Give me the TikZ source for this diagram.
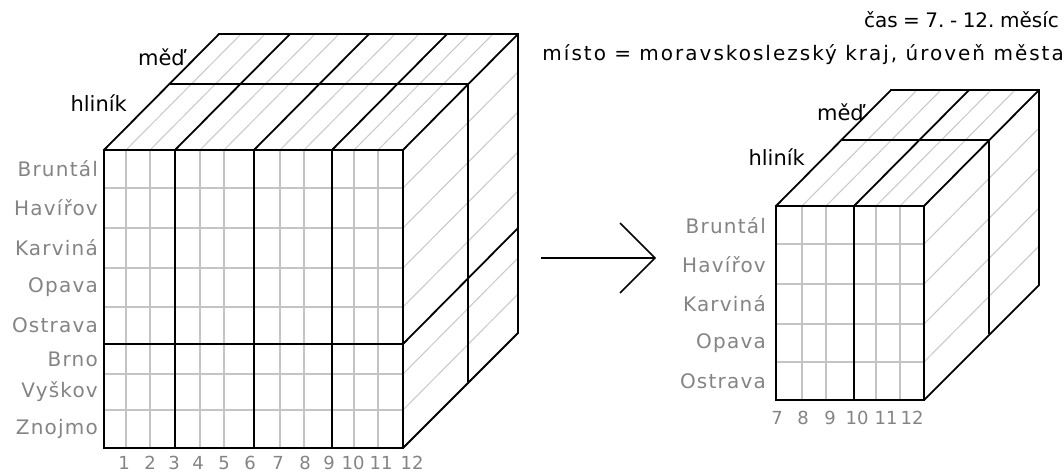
\documentclass[tikz,border=0pt]{standalone}
\usepackage{fontspec}
\setmainfont{DejaVu Sans}
\newfontfamily\spacedfont[LetterSpace=6]{DejaVu Sans}
\newfontfamily\widefont[LetterSpace=10]{DejaVu Sans}
\usetikzlibrary{calc}
\definecolor{gridgrey}{HTML}{C4C4C4}
\definecolor{hatchgrey}{HTML}{C8C8C8}
\definecolor{labelgrey}{HTML}{848484}
\newcommand{\gap}{\hspace{5.5pt}}

\begin{document}
\begin{tikzpicture}[x=1pt,y=-1pt,
  edge/.style={line width=1.8pt,black},
  gridline/.style={line width=1.5pt,gridgrey},
  hatch/.style={line width=1pt,hatchgrey},
  rowlabel/.style={anchor=east,inner sep=0pt,text=labelgrey,
    font=\spacedfont\fontsize{20}{22}\selectfont},
  collabel/.style={inner sep=0pt,text=labelgrey,
    font=\fontsize{18}{20}\selectfont},
  layerlabel/.style={anchor=east,inner sep=0pt,
    font=\fontsize{21}{23}\selectfont},
  filterlabel/.style={anchor=east,inner sep=0pt,
    font=\widefont\fontsize{20}{22}\selectfont},
  timelabel/.style={anchor=east,inner sep=0pt,
    font=\fontsize{20}{22}\selectfont}]
\useasboundingbox (0,0) rectangle (1064,472);

% ---------- full cube: 8 cities x 12 months x 2 metals ----------
% hatching on the top and right faces
\foreach \x in {126,150,200,224,280,304,354,378}
  \draw[hatch] (\x,150) -- ++(115,-116);
\foreach \y in {188,228,268,307,374,410}
  \draw[hatch] (403,\y) -- ++(115,-116);
% fine grid of the front face
\foreach \x in {126,150,200,224,280,304,354,378}
  \draw[gridline] (\x,150) -- (\x,448);
\foreach \y in {188,228,268,307,374,410}
  \draw[gridline] (104,\y) -- (403,\y);
% quarter and region boundaries
\foreach \x in {175,254,332}
  \draw[edge] (\x,448) -- (\x,150) -- ++(115,-116);
\draw[edge] (104,344) -- (403,344) -- ++(115,-116);
% outline and metal layers
\draw[edge] (104,150) rectangle (403,448);
\draw[edge] (104,150) -- (219,34) -- (518,34) -- (518,333) -- (403,448);
\draw[edge] (403,150) -- (518,34);
\draw[edge] (169,84) -- (468,84) -- (468,382);

\node[layerlabel] (bigCopper) at (185,57) {měď};
\node[layerlabel] (bigAlu) at (127,103) {hliník};

\node[rowlabel] (bigR1) at (98,169) {Bruntál};
\node[rowlabel] (bigR2) at (98,208) {Havířov};
\node[rowlabel] (bigR3) at (98,248) {Karviná};
\node[rowlabel] (bigR4) at (98,287) {Opava};
\node[rowlabel] (bigR5) at (98,325) {Ostrava};
\node[rowlabel] (bigR6) at (98,359) {Brno};
\node[rowlabel] (bigR7) at (98,392) {Vyškov};
\node[rowlabel] (bigR8) at (98,429) {Znojmo};

\foreach \x/\m in {124/1,150/2,174/3,198/4,224/5,250/6,278/7,305/8,329/9,353/10,381/11,412/12}
  \node[collabel] (bigC\m) at (\x,463) {\m};

% ---------- slicing arrow ----------
\coordinate (arrowtail) at (541,258);
\coordinate (arrowtip) at (655,258);
\draw[edge,line width=1.6pt] (arrowtail) -- (arrowtip);
\draw[edge,line width=1.6pt] ($(arrowtip)+(-35,-35)$) -- (arrowtip) -- ($(arrowtip)+(-35,35)$);

% ---------- filter description ----------
\node[timelabel] (timefilter) at (1059,20) {čas\gap=\gap7.\gap-\gap12.\gap měsíc};
\node[filterlabel] (placefilter) at (1064,55) {místo = moravskoslezský kraj, úroveň města};

% ---------- sub-cube: 5 cities x 6 months x 2 metals ----------
\foreach \x in {802,826,876,900}
  \draw[hatch] (\x,206) -- ++(115,-116);
\foreach \y in {244,284,324,362}
  \draw[hatch] (924,\y) -- ++(115,-116);
\foreach \x in {802,826,876,900}
  \draw[gridline] (\x,206) -- (\x,400);
\foreach \y in {244,284,324,362}
  \draw[gridline] (776,\y) -- (924,\y);
\draw[edge] (854,400) -- (854,206) -- ++(115,-116);
\draw[edge] (776,206) rectangle (924,400);
\draw[edge] (776,206) -- (891,90) -- (1039,90) -- (1039,285) -- (924,400);
\draw[edge] (924,206) -- (1039,90);
\draw[edge] (841,140) -- (989,140) -- (989,334);

\node[layerlabel] (smallCopper) at (864,112) {měď};
\node[layerlabel] (smallAlu) at (805,157) {hliník};

\node[rowlabel] (smallR1) at (766,226) {Bruntál};
\node[rowlabel] (smallR2) at (766,265) {Havířov};
\node[rowlabel] (smallR3) at (766,304) {Karviná};
\node[rowlabel] (smallR4) at (766,343) {Opava};
\node[rowlabel] (smallR5) at (766,381) {Ostrava};

\foreach \x/\m in {777/7,803/8,830/9,857/10,886/11,912/12}
  \node[collabel] (smallC\m) at (\x,418) {\m};
\end{tikzpicture}
\end{document}
